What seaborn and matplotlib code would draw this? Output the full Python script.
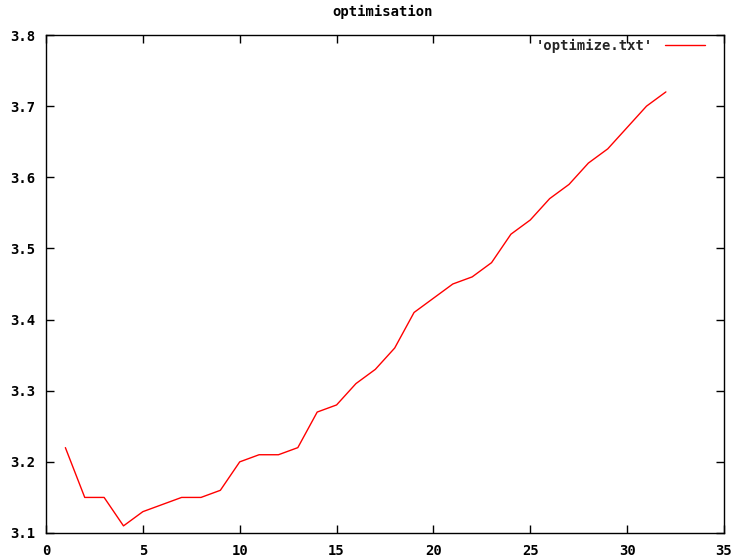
import matplotlib
matplotlib.use("Agg")
import matplotlib.pyplot as plt
import seaborn as sns
import pandas as pd

# optimisation run: iteration vs score
iterations = list(range(1, 33))
scores = [3.22, 3.15, 3.15, 3.11, 3.13, 3.14, 3.15, 3.15, 3.16, 3.20,
          3.21, 3.21, 3.22, 3.27, 3.28, 3.31, 3.33, 3.36, 3.41, 3.43,
          3.45, 3.46, 3.48, 3.52, 3.54, 3.57, 3.59, 3.62, 3.64, 3.67,
          3.70, 3.72]
x_ticks = [0, 5, 10, 15, 20, 25, 30, 35]
y_ticks = [3.1, 3.2, 3.3, 3.4, 3.5, 3.6, 3.7, 3.8]
series_label = "'optimize.txt'"
title = "optimisation"

sns.set_theme(style="white")
plt.rcParams["font.family"] = ["DejaVu Sans Mono", "DejaVu Sans"]

df = pd.DataFrame({"x": iterations, "y": scores})

W, H = 734, 559
fig = plt.figure(figsize=(W / 100, H / 100), dpi=100)
ax = fig.add_axes([46 / W, (H - 533) / H, 678 / W, 498 / H])

sns.lineplot(data=df, x="x", y="y", ax=ax, color="#ff0000", linewidth=1.0,
             label=series_label)

ax.set_xlim(0, 35)
ax.set_ylim(3.1, 3.8)
ax.set_xticks(x_ticks)
ax.set_yticks(y_ticks)
ax.set_xticklabels([str(t) for t in x_ticks])
ax.set_yticklabels([f"{t:.1f}" for t in y_ticks])
ax.set_xlabel("")
ax.set_ylabel("")

for s in ax.spines.values():
    s.set_color("black")
    s.set_linewidth(1.0)
    s.set_visible(True)

ax.tick_params(direction="in", length=6, width=1, color="black",
               top=True, right=True, bottom=True, left=True,
               labelsize=10, pad=8)
for lbl in ax.get_xticklabels() + ax.get_yticklabels():
    lbl.set_fontweight("bold")
    lbl.set_color("black")

fig.text(383 / W, 1 - 12 / H, title, ha="center", va="center",
         fontsize=10, fontweight="bold", color="black")

leg = ax.legend(loc="upper right", frameon=False, markerfirst=False,
                handlelength=2.9, handletextpad=0.9, borderaxespad=0.0,
                bbox_to_anchor=((711 - 46) / 678, (533 - 33) / 498),
                prop={"weight": "bold", "size": 10})

fig.savefig("out.png", dpi=100, facecolor="white")
